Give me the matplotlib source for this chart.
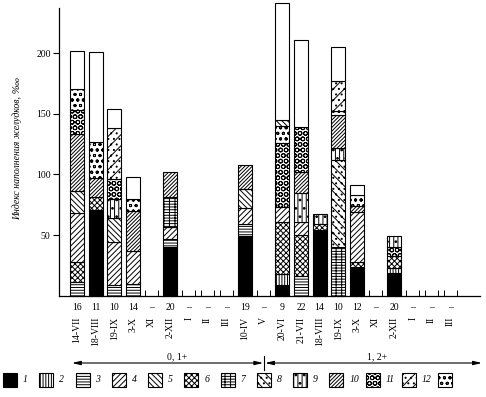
import matplotlib
matplotlib.use("Agg")
import matplotlib.pyplot as plt
import matplotlib.transforms as mtransforms
from matplotlib.patches import Rectangle

plt.rcParams['font.family'] = ['Liberation Serif', 'DejaVu Serif']
plt.rcParams['hatch.linewidth'] = 0.7

# ---------------- data ----------------
categories = ["14-VII", "18-VIII", "19-IX", "3-X", "XI", "2-XII", "I", "II", "III",
              "10-IV", "V", "20-VI", "21-VII", "18-VIII", "19-IX", "3-X", "XI",
              "2-XII", "I", "II", "III"]
counts = ["16", "11", "10", "14", "–", "20", "–", "–", "–", "19", "–",
          "9", "22", "14", "10", "12", "–", "20", "–", "–", "–"]

# food-item codes per bar, bottom to top (0 = unidentified, white)
stack_codes = [
    [3, 6, 4, 5, 10, 11, 13, 0],
    [1, 6, 10, 13, 0],
    [3, 4, 5, 9, 11, 12, 0],
    [3, 4, 10, 13, 0],
    [],
    [1, 3, 4, 7, 10],
    [], [], [],
    [1, 3, 4, 5, 10],
    [],
    [1, 2, 6, 4, 11, 13, 5, 0],
    [3, 6, 4, 9, 10, 11, 0],
    [1, 6, 9],
    [7, 8, 9, 10, 13, 12, 0],
    [1, 6, 4, 10, 13, 0],
    [],
    [1, 2, 6, 11, 9],
    [], [], [],
]
# segment heights (index of stomach fullness, ‱), same order as stack_codes
stack_values = [
    [11, 17, 40, 18, 47, 20, 17, 32],
    [71, 10, 16, 30, 74],
    [9, 35, 20, 16, 16, 42, 16],
    [10, 27, 33, 10, 18],
    [],
    [40, 7, 10, 24, 21],
    [], [], [],
    [49, 10, 13, 16, 20],
    [],
    [9, 9, 43, 12, 53, 14, 5, 96],
    [16, 34, 11, 24, 17, 37, 72],
    [54, 5, 8],
    [40, 72, 10, 27, 3, 25, 28],
    [24, 4, 41, 5, 9, 8],
    [],
    [19, 4, 10, 7, 9],
    [], [], [],
]
legend_codes = [1, 2, 3, 4, 5, 6, 7, 8, 9, 10, 11, 12, 13]
legend_labels = ["1", "2", "3", "4", "5", "6", "7", "8", "9", "10", "11", "12", ""]
group_labels = ["0, 1+", "1, 2+"]
yticks = [50, 100, 150, 200]

# ---------------- styles ----------------
styles = {
    0: dict(facecolor='white', hatch=None),
    1: dict(facecolor='black', hatch=None),
    2: dict(facecolor='white', hatch='||||||'),
    3: dict(facecolor='white', hatch='------'),
    4: dict(facecolor='white', hatch='//////'),
    5: dict(facecolor='white', hatch='\\\\\\\\\\\\'),
    6: dict(facecolor='white', hatch='xxxxxx'),
    7: dict(facecolor='white', hatch='------|||'),
    8: dict(facecolor='white', hatch='\\\\\\\\...'),
    9: dict(facecolor='white', hatch='||||..'),
    10: dict(facecolor='white', hatch='/////////'),
    11: dict(facecolor='white', hatch='OOO'),
    12: dict(facecolor='white', hatch='///...'),
    13: dict(facecolor='white', hatch='ooo'),
}

W, H = 486, 397
fig = plt.figure(figsize=(W / 100, H / 100), dpi=100)
y0_px, ytop_px = 295.7, 0.9
ax = fig.add_axes([59 / W, 1 - y0_px / H, 421 / W, (y0_px - ytop_px) / H])
ax.set_xlim(-0.965, 21.6)
ax.set_ylim(0, 243)

ax.spines['top'].set_visible(False)
ax.spines['right'].set_visible(False)
ax.spines['left'].set_bounds(0, 237)
ax.spines['left'].set_linewidth(0.9)
ax.spines['bottom'].set_linewidth(0.9)

ax.set_yticks(yticks)
ax.set_yticklabels([str(v) for v in yticks])
ax.tick_params(axis='y', direction='out', length=4, width=0.8, labelsize=7, pad=2)
ax.set_ylabel("Индекс наполнения желудков, ‱", fontsize=7, style='italic', labelpad=10)

# x ticks: small inward marks at edges of empty slots
ax.set_xticks([])
minor = []
for i, codes in enumerate(stack_codes):
    if not codes:
        minor += [i - 0.35, i + 0.35]
ax.set_xticks(minor, minor=True)
ax.tick_params(axis='x', which='minor', direction='in', length=4, width=0.7)

# bars
for i, (codes, vals) in enumerate(zip(stack_codes, stack_values)):
    bottom = 0
    for c, v in zip(codes, vals):
        st = styles[c]
        ax.bar(i, v, width=0.75, bottom=bottom, facecolor=st['facecolor'],
               hatch=st['hatch'], edgecolor='black', linewidth=0.8, clip_on=False)
        bottom += v

# category labels below axis
btrans = mtransforms.blended_transform_factory(ax.transData, fig.transFigure)
for i, (cat, n) in enumerate(zip(categories, counts)):
    ax.text(i, 1 - 308 / H, n, transform=btrans, ha='center', va='center',
            fontsize=7, clip_on=False)
    ax.text(i, 1 - 317 / H, cat, transform=btrans, ha='center', va='top',
            rotation=90, fontsize=7, clip_on=False)

# age-group brackets
yb = 1 - 363 / H
sep = 10.03
arrow_kw = dict(arrowstyle='<|-|>,head_length=0.5,head_width=0.12', color='black',
                lw=0.8, shrinkA=0, shrinkB=0)
ax.annotate('', xy=(-0.27, yb), xytext=(sep - 0.05, yb), xycoords=btrans,
            textcoords=btrans, arrowprops=arrow_kw, annotation_clip=False)
ax.annotate('', xy=(sep + 0.05, yb), xytext=(21.7, yb), xycoords=btrans,
            textcoords=btrans, arrowprops=arrow_kw, annotation_clip=False)
ax.plot([sep, sep], [1 - 356 / H, 1 - 370 / H], transform=btrans, color='black',
        lw=0.8, clip_on=False)
ax.text(5.36, 1 - 361 / H, group_labels[0], transform=btrans, ha='center',
        va='bottom', fontsize=7)
ax.text(16.09, 1 - 361 / H, group_labels[1], transform=btrans, ha='center',
        va='bottom', fontsize=7)

# legend
for k, (c, lab) in enumerate(zip(legend_codes, legend_labels)):
    xl = 3 + 36.25 * k
    st = styles[c]
    r = Rectangle((xl / W, 1 - 387 / H), 14 / W, 14 / H, transform=fig.transFigure,
                  facecolor=st['facecolor'], hatch=st['hatch'], edgecolor='black',
                  linewidth=0.8)
    fig.patches.append(r)
    if lab:
        fig.text((xl + 20) / W, 1 - 380 / H, lab, ha='left', va='center',
                 fontsize=7, style='italic')

fig.savefig("out.png", dpi=100)
